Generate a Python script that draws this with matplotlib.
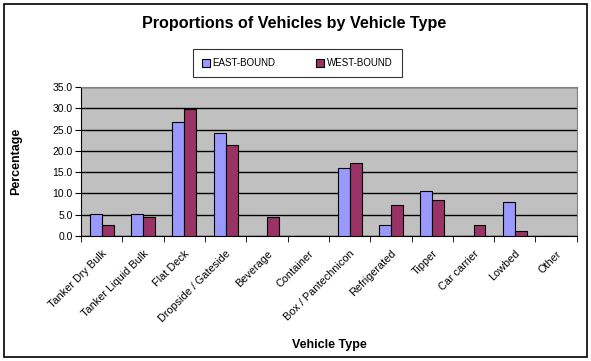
#!/usr/bin/python3

import numpy as np
import matplotlib
matplotlib.use('Agg')
import matplotlib.pyplot as plt
from matplotlib.patches import Rectangle

categories = ['Tanker Dry Bulk', 'Tanker Liquid Bulk', 'Flat Deck', 'Dropside / Gateside',
              'Beverage', 'Container', 'Box / Pantechnicon', 'Refrigerated', 'Tipper',
              'Car carrier', 'Lowbed', 'Other']
east_bound = [5.3, 5.3, 26.9, 24.1, 0.0, 0.0, 16.1, 2.7, 10.7, 0.0, 8.1, 0.0]
west_bound = [2.7, 4.4, 29.9, 21.3, 4.5, 0.0, 17.1, 7.2, 8.4, 2.7, 1.3, 0.0]
y_ticks = [0, 5, 10, 15, 20, 25, 30, 35]

font = {'family': ['Liberation Sans', 'DejaVu Sans'],
        'size': 7}


def main():
    plt.rc('font', **font)

    fig = plt.figure(figsize=(5.91, 3.61), dpi=100)
    fig.patch.set_facecolor('white')
    # outer chart border
    fig.patches.append(Rectangle((0.006, 0.011), 0.988, 0.978, transform=fig.transFigure,
                                 fill=False, edgecolor='black', linewidth=1.2))

    ax = fig.add_axes([0.137, 0.346, 0.839, 0.413])
    ax.set_facecolor('#C0C0C0')

    x = np.arange(len(categories))
    w = 0.29
    ax.bar(x - w / 2, east_bound, w, color='#9999FF', edgecolor='black', linewidth=0.8,
           label='EAST-BOUND', zorder=3)
    ax.bar(x + w / 2, west_bound, w, color='#993366', edgecolor='black', linewidth=0.8,
           label='WEST-BOUND', zorder=3)

    ax.set_xlim(-0.5, len(categories) - 0.5)
    ax.set_ylim(0, 35)
    ax.set_yticks(y_ticks)
    ax.set_yticklabels(['%.1f' % v for v in y_ticks], fontsize=7.5)
    ax.yaxis.grid(True, color='black', linewidth=1.0, zorder=1)
    ax.set_axisbelow(True)

    ax.set_xticks(x)
    ax.set_xticklabels(categories, rotation=45, ha='right', rotation_mode='anchor', fontsize=7.8)
    ax.set_xticks(np.arange(len(categories) + 1) - 0.5, minor=True)
    ax.tick_params(axis='x', which='major', length=0, pad=9)
    ax.tick_params(axis='x', which='minor', length=4, color='black', direction='out')
    ax.tick_params(axis='y', length=4, color='black', direction='out', pad=2)

    for side in ['top', 'right']:
        ax.spines[side].set_color('#808080')
    for side in ['left', 'bottom']:
        ax.spines[side].set_color('black')

    fig.text(0.028, 0.553, 'Percentage', rotation=90, ha='center', va='center',
             fontsize=9, fontweight='bold')
    fig.text(0.558, 0.043, 'Vehicle Type', ha='center', va='center', fontsize=9, fontweight='bold')
    fig.text(0.497, 0.935, 'Proportions of Vehicles by Vehicle Type', ha='center', va='center',
             fontsize=11.6, fontweight='bold')

    leg = fig.legend(loc='center', bbox_to_anchor=(0.503, 0.825), ncol=2, fontsize=7,
                     frameon=True, fancybox=False, edgecolor='black', handlelength=0.8,
                     handleheight=0.8, handletextpad=0.3, columnspacing=4.2, borderpad=0.9)
    leg.get_frame().set_linewidth(0.8)

    plt.savefig('out.png', dpi=100)


if __name__ == "__main__":
    main()
